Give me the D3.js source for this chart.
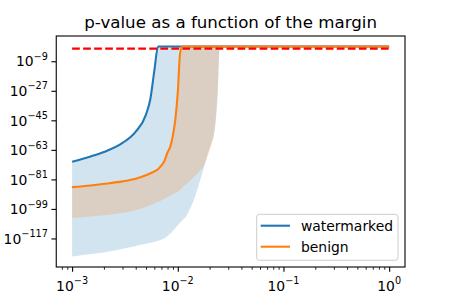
<!DOCTYPE html>
<html>
<head>
<meta charset="utf-8">
<script src="https://cdn.jsdelivr.net/npm/d3@7"></script>
<style>
  html, body { margin: 0; padding: 0; background: #fff; }
  svg { display: block; }
  text { font-family: "DejaVu Sans", sans-serif; fill: #000; }
</style>
</head>
<body>
<svg id="chart" width="450" height="300"></svg>
<script>
// ---- data (p-values stored as log10 exponents) ----
const margins = [0.001, 0.0015, 0.002, 0.003, 0.004, 0.005, 0.0055, 0.006, 0.0065, 0.007,
  0.0075, 0.008, 0.0085, 0.009, 0.0095, 0.01, 0.0105, 0.011, 0.012, 0.013,
  0.014, 0.015, 0.016, 0.017, 0.018, 0.019, 0.02, 0.021, 0.022, 0.023,
  0.024, 0.0245, 0.025, 0.03, 0.1, 1.0];

const watermarkedLog = [-70.2, -67.0, -64.3, -58.8, -51.9, -41.5, -32.0, -14.7, 0, 0,
  0, 0, 0, 0, 0, 0, 0, 0, 0, 0,
  0, 0, 0, 0, 0, 0, 0, 0, 0, 0,
  0, 0, 0, 0, 0, 0];
const watermarkedLowLog = [-128.0, -126.5, -125.5, -123.3, -121.6, -120.3, -119.6, -119.0, -118.4, -117.6,
  -116.8, -115.5, -114.0, -112.3, -110.6, -109.0, -107.5, -106.0, -103.5, -99.0,
  -94.5, -89.0, -83.0, -77.5, -72.0, -66.5, -62.0, -58.5, -54.0, -44.0,
  -26.0, -10.0, 0, 0, 0, 0];

const benignLog = [-85.7, -84.7, -83.7, -82.2, -80.6, -78.5, -77.3, -76.2, -74.8, -72.5,
  -69.5, -64.5, -61.0, -54.0, -44.0, -28.0, -4.6, 0, 0, 0,
  0, 0, 0, 0, 0, 0, 0, 0, 0, 0,
  0, 0, 0, 0, 0, 0];
const benignLowLog = [-104.5, -103.6, -102.9, -101.3, -99.8, -97.8, -96.8, -95.8, -94.8, -93.8,
  -92.8, -91.8, -90.8, -90.0, -89.2, -88.5, -87.5, -86.0, -84.0, -82.0,
  -80.0, -78.0, -76.0, -74.0, -71.5, -67.5, -63.5, -58.5, -52.8, -41.0,
  -22.0, -7.0, 0, 0, 0, 0];

const thresholdP = 0.05;
const thresholdRange = [0.001, 1.0];

const xTickExps = [-3, -2, -1, 0];
const yTickExps = [-9, -27, -45, -63, -81, -99, -117];
const seriesNames = ["watermarked", "benign"];
const titleText = "p-value as a function of the margin";

// ---- layout ----
const W = 450, H = 300;
const pL = 56.25, pR = 405, pT = 36, pB = 267;
const colors = { watermarked: "#1f77b4", benign: "#ff7f0e" };
const LW = 2.08;

const svg = d3.select("#chart");

const x = d3.scaleLog().domain([Math.pow(10, -3.15), Math.pow(10, 0.15)]).range([pL, pR]);
const y = d3.scaleLog().domain([Math.pow(10, -134.4), Math.pow(10, 6.4)]).range([pB, pT]);

const P = e => Math.pow(10, e);

function rows(lineLog, lowLog) {
  return margins.map((m, i) => ({ m: m, v: P(lineLog[i]), lo: P(lowLog[i]) }));
}
const wRows = rows(watermarkedLog, watermarkedLowLog);
const bRows = rows(benignLog, benignLowLog);

const defs = svg.append("defs");
defs.append("clipPath").attr("id", "clip").append("rect")
  .attr("x", pL).attr("y", pT).attr("width", pR - pL).attr("height", pB - pT);

const plot = svg.append("g").attr("clip-path", "url(#clip)");

const area = d3.area().curve(d3.curveMonotoneX)
  .x(d => x(d.m)).y0(d => y(d.lo)).y1(d => y(d.v));
const line = d3.line().curve(d3.curveMonotoneX)
  .x(d => x(d.m)).y(d => y(d.v));

// watermarked
plot.append("path").datum(wRows).attr("d", area)
  .attr("fill", colors.watermarked).attr("fill-opacity", 0.2).attr("stroke", "none");
plot.append("path").datum(wRows).attr("d", line)
  .attr("fill", "none").attr("stroke", colors.watermarked).attr("stroke-width", LW)
  .attr("stroke-linejoin", "round");
// benign
plot.append("path").datum(bRows).attr("d", area)
  .attr("fill", colors.benign).attr("fill-opacity", 0.2).attr("stroke", "none");
plot.append("path").datum(bRows).attr("d", line)
  .attr("fill", "none").attr("stroke", colors.benign).attr("stroke-width", LW)
  .attr("stroke-linejoin", "round");

// threshold
plot.append("line")
  .attr("x1", x(thresholdRange[0])).attr("x2", x(thresholdRange[1]))
  .attr("y1", y(thresholdP)).attr("y2", y(thresholdP))
  .attr("stroke", "#ff0000").attr("stroke-width", LW)
  .attr("stroke-dasharray", "7.7,3.33");

// ---- axes ----
const xTicks = xTickExps.map(P);
const xAxis = d3.axisBottom(x).tickValues(xTicks).tickSize(4.86).tickFormat("");
const gx = svg.append("g").attr("transform", `translate(0,${pB})`).call(xAxis);
gx.select(".domain").remove();
gx.selectAll(".tick line").attr("stroke", "#000").attr("stroke-width", 1.1);

// minor x ticks
const minor = [];
for (let e = -4; e <= 0; e++) for (let k = 2; k <= 9; k++) {
  const v = k * Math.pow(10, e);
  if (v >= x.domain()[0] && v <= x.domain()[1]) minor.push(v);
}
const xMinor = d3.axisBottom(x).tickValues(minor).tickSize(2.78).tickFormat("");
const gxm = svg.append("g").attr("transform", `translate(0,${pB})`).call(xMinor);
gxm.select(".domain").remove();
gxm.selectAll(".tick line").attr("stroke", "#000").attr("stroke-width", 0.83);

// x labels
xTickExps.forEach(e => {
  const t = svg.append("text").attr("x", x(P(e))).attr("y", 290.5)
    .attr("text-anchor", "middle").style("font-size", "13.9px");
  t.append("tspan").text("10");
  t.append("tspan").attr("dy", -6.5).style("font-size", "9.7px")
    .text(e < 0 ? "\u2212" + Math.abs(e) : String(e));
});

const yAxis = d3.axisLeft(y).tickValues(yTickExps.map(P)).tickSize(4.86).tickFormat("");
const gy = svg.append("g").attr("transform", `translate(${pL},0)`).call(yAxis);
gy.select(".domain").remove();
gy.selectAll(".tick line").attr("stroke", "#000").attr("stroke-width", 1.1);

yTickExps.forEach(e => {
  const t = svg.append("text").attr("x", pL - 4.86 - 3.5).attr("y", y(P(e)) + 5.2)
    .attr("text-anchor", "end").style("font-size", "13.9px");
  t.append("tspan").text("10");
  t.append("tspan").attr("dy", -6.5).style("font-size", "9.7px")
    .text("\u2212" + Math.abs(e));
});

// frame
svg.append("rect").attr("x", pL).attr("y", pT)
  .attr("width", pR - pL).attr("height", pB - pT)
  .attr("fill", "none").attr("stroke", "#000").attr("stroke-width", 1.1);

// title
svg.append("text").attr("x", (pL + pR) / 2).attr("y", 28)
  .attr("text-anchor", "middle").style("font-size", "16.67px").text(titleText);

// legend
const lg = svg.append("g");
lg.append("rect").attr("x", 256.7).attr("y", 214.3).attr("width", 141.3).attr("height", 46)
  .attr("rx", 2.8).attr("fill", "#fff").attr("fill-opacity", 0.8)
  .attr("stroke", "#cccccc").attr("stroke-width", 1);
seriesNames.forEach((name, i) => {
  const cy = 225.7 + i * 21;
  lg.append("line").attr("x1", 260.7).attr("x2", 290).attr("y1", cy).attr("y2", cy)
    .attr("stroke", colors[name]).attr("stroke-width", LW);
  lg.append("text").attr("x", 301).attr("y", cy + 5).style("font-size", "13.9px").text(name);
});
</script>
</body>
</html>
